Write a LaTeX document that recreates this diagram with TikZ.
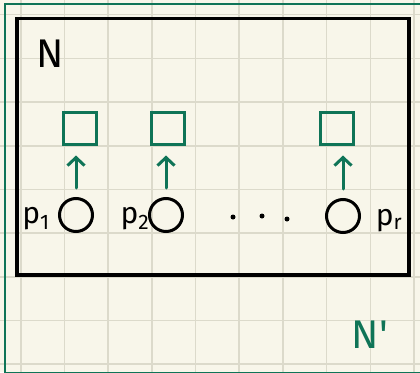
\documentclass[tikz,border=0pt]{standalone}
\usepackage{fontspec}
\setmainfont{Fira Sans}
\usetikzlibrary{arrows.meta}
\definecolor{paper}{HTML}{F8F6EA}
\definecolor{gridc}{HTML}{DCDACB}
\definecolor{ink}{HTML}{0F7457}
\begin{document}
\begin{tikzpicture}[x=1pt,y=-1pt,
  inner/.style={draw=black, line width=3.6pt},
  outer/.style={draw=ink, line width=2.6pt},
  slot/.style={draw=ink, line width=3pt, rectangle, minimum width=33pt, minimum height=32pt, inner sep=0pt},
  point/.style={draw=black, line width=3pt, circle, minimum size=33pt, inner sep=0pt},
  lift/.style={draw=ink, line width=3pt, line cap=round, -{Straight Barb[length=8pt,width=17pt,line width=3pt]}, shorten <=9pt, shorten >=10pt},
  lab/.style={font=\fontsize{30}{30}\selectfont, inner sep=0pt},
  big/.style={font=\fontsize{40}{40}\selectfont, inner sep=0pt}]
  % paper and grid
  \fill[paper] (0,0) rectangle (420,372);
  \useasboundingbox (0,0) rectangle (420,372);
  \foreach \i in {0,...,9} \draw[gridc, line width=1.6pt] ({20.7+43.7*\i},0) -- ++(0,372);
  \foreach \j in {0,...,8} \draw[gridc, line width=1.6pt] (0,{14.6+43.7*\j}) -- ++(420,0);
  % frames
  \draw[outer] (5,4) rectangle (440,373);
  \draw[inner] (17,18.5) rectangle (409,275);
  % labels
  \node[big] (N) at (50,54) {N};
  \node[big, text=ink] (Np) at (370,335) {N\textquotesingle};
  % slots and points
  \node[slot] (s1) at (80,128) {};
  \node[slot] (s2) at (168,128) {};
  \node[slot] (s3) at (337,128) {};
  \node[point] (c1) at (76,215) {};
  \node[point] (c2) at (166,215) {};
  \node[point] (c3) at (343,216) {};
  \node[lab] (p1) at (36,219) {p\textsubscript{1}};
  \node[lab] (p2) at (135,219) {p\textsubscript{2}};
  \node[lab] (pr) at (389,221) {p\textsubscript{r}};
  % ellipsis
  \fill (233,217) circle (2.5);
  \fill (262,216) circle (2.5);
  \fill (287,219) circle (2.5);
  % arrows, straight up from each point towards its slot
  \draw[lift] (c1) -- (c1 |- s1.south);
  \draw[lift] (c2) -- (c2 |- s2.south);
  \draw[lift] (c3) -- (c3 |- s3.south);
\end{tikzpicture}
\end{document}
